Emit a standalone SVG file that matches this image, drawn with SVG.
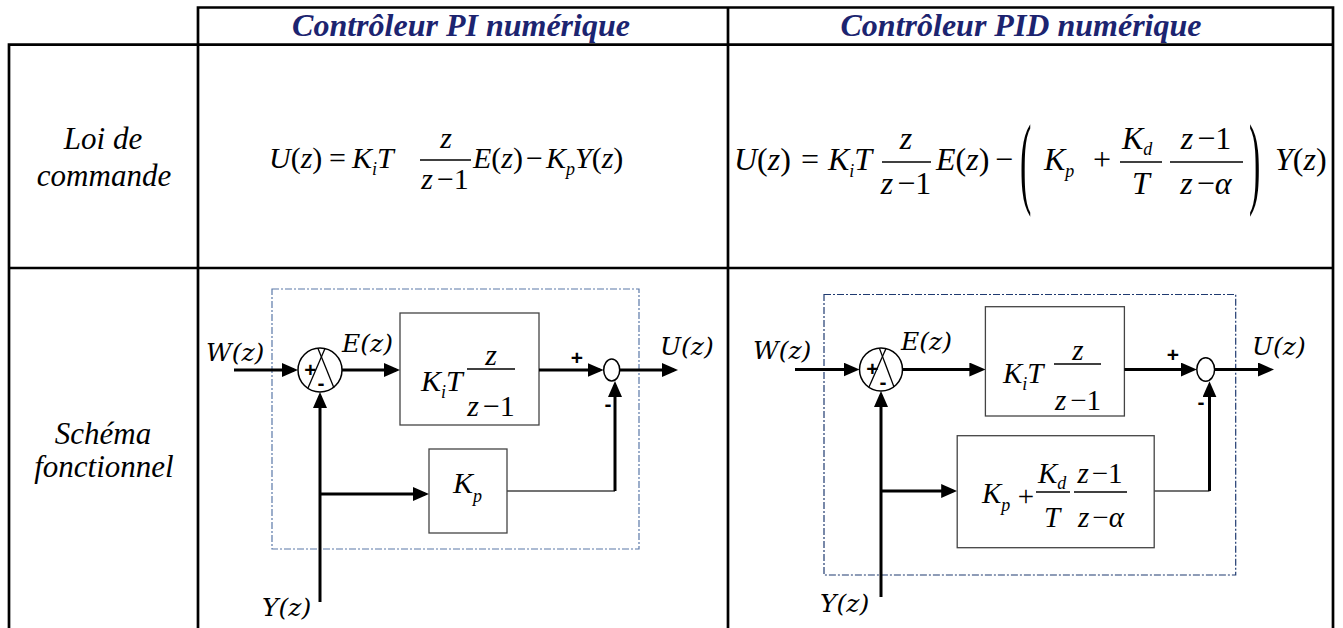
<svg xmlns="http://www.w3.org/2000/svg" width="1343" height="628" viewBox="0 0 1343 628">
<defs>
<style>
.tb{stroke:#000;stroke-width:2.7;fill:none;stroke-linecap:square}
.hdr{font-family:"Liberation Serif",serif;font-weight:bold;font-style:italic;font-size:32px;fill:#1c2470;text-anchor:middle}
.lbl{font-family:"Liberation Serif",serif;font-style:italic;font-size:31px;fill:#000;text-anchor:middle}
.m{font-family:"Liberation Serif",serif;font-style:italic;fill:#000}
.u{font-style:normal}
.sub{font-size:18px}
.c{text-anchor:middle}
.cm{font-family:"DejaVu Serif",serif;font-style:italic;font-size:25px;fill:#000}
.sg{font-family:"Liberation Sans",sans-serif;font-weight:bold;font-size:21px;fill:#000;text-anchor:middle}
.wa{stroke:#000;stroke-width:3;fill:none;marker-end:url(#ah)}
.th{stroke:#444;stroke-width:1.3;fill:none}
.blk{fill:#fff;stroke:#444;stroke-width:1.3}
.sum{fill:#fff;stroke:#000;stroke-width:1.5}
.x{stroke:#000;stroke-width:1.3}
.bar{stroke:#000;stroke-width:1.3}
.fr1{fill:none;stroke:#5a78a8;stroke-width:1.2;stroke-dasharray:7 2 2 2}
.fr2{fill:none;stroke:#1f3a70;stroke-width:1.2;stroke-dasharray:7 2 2 2}
</style>
<marker id="ah" markerUnits="userSpaceOnUse" markerWidth="16" markerHeight="14" refX="12" refY="7" orient="auto"><path d="M0,0 L16,7 L0,14 z" fill="#000"/></marker>
</defs>
<rect width="1343" height="628" fill="#fff"/>

<g id="table">
<path class="tb" d="M198,7.5 H1333 M9,44.7 H1333 M9,268 H1333 M9,44.7 V628 M198,7.5 V628 M728,7.5 V628 M1333,7.5 V628"/>
<text class="hdr" x="461" y="36">Contrôleur PI numérique</text>
<text class="hdr" x="1021" y="36">Contrôleur PID numérique</text>
<text class="lbl" x="103" y="149">Loi de</text>
<text class="lbl" x="104" y="186">commande</text>
<text class="lbl" x="103" y="444">Schéma</text>
<text class="lbl" x="104" y="477">fonctionnel</text>
</g>

<g id="formula-pi" class="m" font-size="30">
<text x="269" y="168">U<tspan class="u">(</tspan>z<tspan class="u">)</tspan></text>
<text x="329" y="168" class="u">=</text>
<text x="352" y="168">K<tspan class="sub" dy="7">i</tspan><tspan dy="-7">T</tspan></text>
<line class="bar" x1="420" y1="160" x2="471" y2="160"/>
<text class="c" x="446" y="148">z</text>
<text class="c" x="445" y="189">z<tspan class="u" dx="4">−1</tspan></text>
<text x="473" y="168">E<tspan class="u">(</tspan>z<tspan class="u">)</tspan><tspan class="u" dx="3">−</tspan><tspan dx="3">K</tspan><tspan class="sub" dy="7">p</tspan><tspan dy="-7">Y</tspan><tspan class="u">(</tspan>z<tspan class="u">)</tspan></text>
</g>

<g id="formula-pid" class="m" font-size="32">
<text x="734" y="170">U<tspan class="u">(</tspan>z<tspan class="u">)</tspan></text>
<text x="801" y="170" class="u">=</text>
<text x="828" y="170">K<tspan class="sub" dy="7">i</tspan><tspan dy="-7">T</tspan></text>
<line class="bar" x1="882" y1="162" x2="931" y2="162"/>
<text class="c" x="906" y="149">z</text>
<text class="c" x="906" y="194">z<tspan class="u" dx="4">−1</tspan></text>
<text x="936" y="170">E<tspan class="u">(</tspan>z<tspan class="u">)</tspan></text>
<text x="995" y="170" class="u">−</text>
<text class="u" font-size="34" transform="translate(1020,195.4) scale(1,3)">(</text>
<text x="1044" y="170">K<tspan class="sub" dy="7">p</tspan></text>
<text x="1093" y="170" class="u">+</text>
<line class="bar" x1="1120" y1="162" x2="1162" y2="162"/>
<text x="1122" y="149">K<tspan class="sub" dy="6">d</tspan></text>
<text class="c" x="1141" y="194">T</text>
<line class="bar" x1="1170" y1="162" x2="1243" y2="162"/>
<text class="c" x="1206" y="149">z<tspan class="u" dx="4">−1</tspan></text>
<text class="c" x="1206" y="194">z<tspan class="u" dx="4">−</tspan>α</text>
<text class="u" font-size="34" transform="translate(1249,195.4) scale(1,3)">)</text>
<text x="1275" y="170">Y<tspan class="u">(</tspan>z<tspan class="u">)</tspan></text>
</g>

<!-- PI diagram -->
<g id="pi-frame"><rect class="fr1" x="272" y="289" width="367" height="260"/></g>
<g id="pi-sum1">
<circle class="sum" cx="320" cy="370" r="22"/>
<line class="x" x1="318" y1="348.5" x2="334" y2="388"/>
<line class="x" x1="325" y1="348.5" x2="308" y2="388"/>
<text class="sg" x="310.5" y="377">+</text>
<text class="sg" x="321" y="390">-</text>
</g>
<g id="pi-block-ki" class="m" font-size="30">
<rect class="blk" x="400" y="313" width="139" height="112"/>
<text x="421" y="391">K<tspan class="sub" dy="7">i</tspan><tspan dy="-7">T</tspan></text>
<line class="bar" x1="467" y1="369" x2="515" y2="369"/>
<text class="c" x="491" y="365">z</text>
<text class="c" x="491" y="416">z<tspan class="u" dx="4">−1</tspan></text>
</g>
<g id="pi-sum2"><ellipse class="sum" cx="611.7" cy="370" rx="8" ry="11" stroke-width="1"/></g>
<g id="pi-block-kp" class="m" font-size="30">
<rect class="blk" x="429" y="449" width="78" height="84"/>
<text x="453" y="493">K<tspan class="sub" dy="9">p</tspan></text>
</g>
<g id="pi-labels">
<text class="cm" x="206" y="361">W(z)</text>
<text class="cm" x="342" y="352">E(z)</text>
<text class="cm" x="660" y="355">U(z)</text>
<text class="cm" x="262" y="616">Y(z)</text>
<text class="sg" x="577" y="365">+</text>
<text class="sg" x="608" y="411">-</text>
</g>
<g id="pi-connectors">
<path class="wa" d="M234,370 H294"/>
<path class="wa" d="M342,370 H396"/>
<path class="wa" d="M539,370 H599.7"/>
<path class="wa" d="M619.7,370 H674"/>
<path class="wa" d="M320,602 V396"/>
<path class="wa" d="M320,494 H425"/>
<path class="th" d="M507,491 H615"/>
<path class="wa" d="M615,491 V385"/>
</g>

<!-- PID diagram -->
<g id="pid-frame"><rect class="fr2" x="824" y="294.5" width="411.7" height="280.5"/></g>
<g id="pid-sum1">
<circle class="sum" cx="881" cy="369.5" r="21.5"/>
<line class="x" x1="879.5" y1="348.5" x2="894" y2="387"/>
<line class="x" x1="886" y1="348.5" x2="869" y2="387"/>
<text class="sg" x="872.5" y="376">+</text>
<text class="sg" x="883" y="389">-</text>
</g>
<g id="pid-block-ki" class="m" font-size="29">
<rect class="blk" x="985.4" y="306.7" width="139" height="109.3"/>
<text x="1003" y="383">K<tspan class="sub" dy="7">i</tspan><tspan dy="-7">T</tspan></text>
<line class="bar" x1="1054" y1="364" x2="1101" y2="364"/>
<text class="c" x="1078" y="360">z</text>
<text class="c" x="1078" y="410">z<tspan class="u" dx="4">−1</tspan></text>
</g>
<g id="pid-sum2"><ellipse class="sum" cx="1205.7" cy="369.5" rx="8.9" ry="11.7" stroke-width="1"/></g>
<g id="pid-block-pd" class="m" font-size="29">
<rect class="blk" x="957.2" y="435.7" width="197" height="112"/>
<text x="982" y="503">K<tspan class="sub" dy="8">p</tspan></text>
<text class="u c" x="1026" y="506">+</text>
<line class="bar" x1="1036" y1="492" x2="1070" y2="492"/>
<text x="1038" y="483">K<tspan class="sub" dy="6">d</tspan></text>
<text class="c" x="1052" y="527">T</text>
<line class="bar" x1="1074" y1="492" x2="1127" y2="492"/>
<text class="c" x="1100" y="483">z<tspan class="u" dx="3">−1</tspan></text>
<text class="c" x="1101" y="527">z<tspan class="u" dx="3">−</tspan>α</text>
</g>
<g id="pid-labels">
<text class="cm" x="753" y="359">W(z)</text>
<text class="cm" x="901" y="350">E(z)</text>
<text class="cm" x="1252" y="355">U(z)</text>
<text class="cm" x="820" y="612">Y(z)</text>
<text class="sg" x="1173" y="362">+</text>
<text class="sg" x="1201" y="409">-</text>
</g>
<g id="pid-connectors">
<path class="wa" d="M795,369.5 H855.5"/>
<path class="wa" d="M902.5,369.5 H981.4"/>
<path class="wa" d="M1124.4,369.5 H1192.8"/>
<path class="wa" d="M1214.6,369.5 H1270"/>
<path class="wa" d="M881,597 V395"/>
<path class="wa" d="M881,491 H953.2"/>
<path class="th" d="M1154.2,491 H1209.5"/>
<path class="wa" d="M1209.5,491 V385.2"/>
</g>
</svg>
